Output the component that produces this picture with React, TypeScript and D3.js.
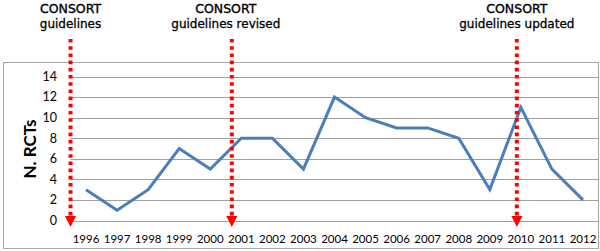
import React from "react";
import * as d3 from "d3";

const years = ["1996","1997","1998","1999","2000","2001","2002","2003","2004","2005","2006","2007","2008","2009","2010","2011","2012"];
const rcts = [3, 1, 3, 7, 5, 8, 8, 5, 12, 10, 9, 9, 8, 3, 11, 5, 2];
const yTicks = [0, 2, 4, 6, 8, 10, 12, 14];
const annoYears = ["1996", "2001", "2010"];
const annoOffsets = [-15.5, -9.5, -4];
const annoLine1 = ["CONSORT", "CONSORT", "CONSORT"];
const annoLine2 = ["guidelines", "guidelines revised", "guidelines updated"];
const annoTextShift = [0, -6, 0];

const W = 600, H = 251;

export default function App() {
  const x = d3.scaleBand<string>().domain(years).range([70.5, 598.5]);
  const y = d3.scaleLinear().domain([0, 14]).range([220.5, 76.5]);
  const cx = (yr: string) => (x(yr) as number) + x.bandwidth() / 2;
  const line = d3.line<number>().x((_, i) => cx(years[i])).y((d) => y(d));
  const labelFont = "Lato, 'Open Sans', sans-serif";
  const annoFont = "'DejaVu Sans', sans-serif";

  return (
    <svg width={W} height={H} style={{ position: "absolute", left: 0, top: 0, background: "#fff" }}>
      <rect x={0} y={0} width={W} height={H} fill="#fff" />
      <rect x={3.5} y={62.5} width={595} height={186} fill="none" stroke="#a6a6a6" strokeWidth={1} />
      {yTicks.map((t) => (
        <g key={t}>
          <line x1={70.5} x2={598.5} y1={Math.round(y(t)) + 0.5} y2={Math.round(y(t)) + 0.5} stroke="#a0a0a0" strokeWidth={1} />
          <text x={57} y={y(t)} dy="0.35em" textAnchor="end" fontFamily={labelFont} fontSize={12.5} fill="#000">{t}</text>
        </g>
      ))}
      {years.map((yr) => (
        <text key={yr} x={cx(yr)} y={243} textAnchor="middle" fontFamily={labelFont} fontSize={11.5} fill="#000">{yr}</text>
      ))}
      <text transform={`translate(36,149) rotate(-90)`} textAnchor="middle" fontFamily={labelFont} fontWeight="bold" fontSize={17} fill="#000">N. RCTs</text>
      <path d={line(rcts) || ""} fill="none" stroke="#4a7ebb" strokeWidth={3} strokeLinejoin="miter" />
      {annoYears.map((yr, i) => {
        const ax = (x(yr) as number) + annoOffsets[i] + x.bandwidth() / 2;
        const tx = ax + annoTextShift[i];
        return (
          <g key={yr}>
            <line x1={ax} x2={ax} y1={39} y2={217} stroke="#ff0000" strokeWidth={4} strokeDasharray="3.6 3.6" />
            <path d={`M${ax - 5.5},${216} L${ax + 5.5},${216} L${ax},${227} Z`} fill="#ff0000" />
            <text x={tx} y={13} textAnchor="middle" fontFamily={annoFont} fontSize={12.5} stroke="#000" strokeWidth={0.35} fill="#000">{annoLine1[i]}</text>
            <text x={tx} y={28} textAnchor="middle" fontFamily={annoFont} fontSize={12} stroke="#000" strokeWidth={0.3} fill="#000">{annoLine2[i]}</text>
          </g>
        );
      })}
    </svg>
  );
}
